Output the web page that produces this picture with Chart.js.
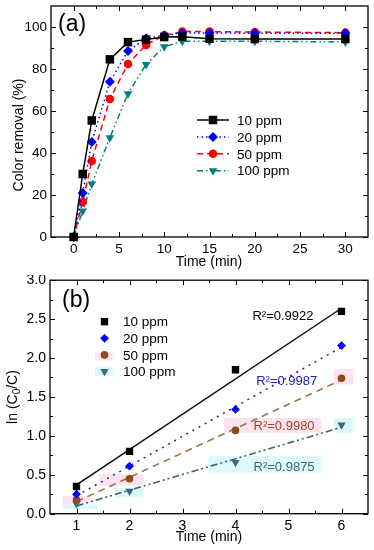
<!DOCTYPE html>
<html>
<head>
<meta charset="utf-8">
<script src="https://cdn.jsdelivr.net/npm/chart.js@4.4.1/dist/chart.umd.min.js"></script>
<style>
  body { margin: 0; background: #fff; }
  canvas { display: block; }
</style>
</head>
<body>
<canvas id="chartA" width="374" height="275"></canvas>
<canvas id="chartB" width="374" height="275"></canvas>
<script>
// (a) color removal vs time
const timeA = [0, 1, 2, 4, 6, 8, 10, 12, 15, 20, 30];
const removal10 = [0, 30, 55.5, 84.6, 92.8, 94, 95.2, 95.4, 94.4, 94.3, 94.3];
const removal20 = [0, 21, 45.2, 73.9, 88.6, 94.6, 96, 97.2, 97.2, 97, 97];
const removal50 = [0, 16.7, 36.2, 65.7, 82.4, 91.5, 96, 97.8, 97.8, 97.6, 97.3];
const removal100 = [0, 12.4, 25.2, 47.3, 68.2, 82.2, 90.6, 93.2, 93.2, 93.2, 92.9];
const xTicksA = [0, 5, 10, 15, 20, 25, 30];
const yTicksA = [0, 20, 40, 60, 80, 100];

// (b) ln(C0/C) vs time, with linear fits
const timeB = [1, 2, 4, 6];
const ln10 = [0.35, 0.80, 1.85, 2.60];
const ln20 = [0.25, 0.61, 1.34, 2.16];
const ln50 = [0.18, 0.45, 1.07, 1.74];
const ln100 = [0.13, 0.29, 0.66, 1.14];
const fitX = [1, 6];
const fit10 = [0.37, 2.64];
const fit20 = [0.23, 2.14];
const fit50 = [0.155, 1.72];
const fit100 = [0.10, 1.11];
const r2Text = ['R²=0.9922', 'R²=0.9987', 'R²=0.9980', 'R²=0.9875'];
const xTicksB = [1, 2, 3, 4, 5, 6];
const yTicksB = [0, 0.5, 1.0, 1.5, 2.0, 2.5, 3.0];

const seriesNames = ['10 ppm', '20 ppm', '50 ppm', '100 ppm'];

const fontFam = '"Liberation Sans", Arial, sans-serif';
Chart.defaults.font.family = fontFam;
Chart.defaults.color = '#000';

const pts = (xs, ys) => xs.map((x, i) => ({ x: x, y: ys[i] }));
const mids = arr => arr.slice(0, -1).map((v, i) => (v + arr[i + 1]) / 2);

const stylesA = [
  { color: '#000000', dash: [], point: 'rect', r: 6, rot: 0 },
  { color: '#0000ff', dash: [1.5, 3], point: 'rectRot', r: 5, rot: 0 },
  { color: '#ff0000', dash: [6, 4], point: 'circle', r: 4.3, rot: 0 },
  { color: '#008080', dash: [6, 3, 1.5, 3, 1.5, 3], point: 'triangle', r: 5, rot: 180 }
];
const stylesB = [
  { color: '#000000', line: '#000000', dash: [], point: 'rect', r: 5.2, rot: 0, text: '#000000' },
  { color: '#0000ff', line: '#2a2aa8', dash: [2, 5], point: 'rectRot', r: 4.4, rot: 0, text: '#2222b0' },
  { color: '#8f4a1a', line: '#9a7450', dash: [7, 5], point: 'circle', r: 3.8, rot: 0, text: '#a0461e' },
  { color: '#3a6a88', line: '#35666f', dash: [7, 3, 2, 3, 2, 3], point: 'triangle', r: 4.8, rot: 180, text: '#3d6478' }
];

// simple marker for the hand-made legends
function drawMark(ctx, s, x, y) {
  ctx.save();
  ctx.fillStyle = s.color;
  ctx.beginPath();
  if (s.point === 'rect') {
    const h = s.r * Math.SQRT1_2;
    ctx.rect(x - h, y - h, 2 * h, 2 * h);
  } else if (s.point === 'rectRot') {
    ctx.moveTo(x, y - s.r); ctx.lineTo(x + s.r, y); ctx.lineTo(x, y + s.r); ctx.lineTo(x - s.r, y);
    ctx.closePath();
  } else if (s.point === 'circle') {
    ctx.arc(x, y, s.r, 0, Math.PI * 2);
  } else {
    ctx.moveTo(x, y + s.r);
    ctx.lineTo(x - s.r * 0.866, y - s.r * 0.5);
    ctx.lineTo(x + s.r * 0.866, y - s.r * 0.5);
    ctx.closePath();
  }
  ctx.fill();
  ctx.restore();
}

function fixedAxis(size, horiz) {
  return s => {
    if (horiz) s.height = size; else s.width = size;
    s.paddingTop = 0; s.paddingBottom = 0; s.paddingLeft = 0; s.paddingRight = 0;
  };
}

// box with inward ticks on all four sides
function framePlugin(xMaj, xMin, yMaj, yMin) {
  return {
    id: 'frame',
    afterDatasetsDraw(chart) {
      const { ctx, chartArea: a, scales } = chart;
      const x = scales.x, y = scales.y;
      ctx.save();
      ctx.strokeStyle = '#000';
      ctx.lineWidth = 1.3;
      ctx.strokeRect(a.left, a.top, a.right - a.left, a.bottom - a.top);
      ctx.lineWidth = 1;
      ctx.beginPath();
      const vt = (vals, len) => vals.forEach(v => {
        const px = Math.round(x.getPixelForValue(v)) + 0.5;
        ctx.moveTo(px, a.bottom); ctx.lineTo(px, a.bottom - len);
        ctx.moveTo(px, a.top); ctx.lineTo(px, a.top + len);
      });
      const ht = (vals, len) => vals.forEach(v => {
        const py = Math.round(y.getPixelForValue(v)) + 0.5;
        ctx.moveTo(a.left, py); ctx.lineTo(a.left + len, py);
        ctx.moveTo(a.right, py); ctx.lineTo(a.right - len, py);
      });
      vt(xMaj, 5); vt(xMin, 3); ht(yMaj, 5); ht(yMin, 3);
      ctx.stroke();
      ctx.restore();
    }
  };
}

const textA = {
  id: 'textA',
  afterDraw(chart) {
    const ctx = chart.ctx;
    ctx.save();
    ctx.fillStyle = '#000';
    ctx.textBaseline = 'middle';
    ctx.font = '23px ' + fontFam;
    ctx.fillText('(a)', 58, 25);

    ctx.font = '14px ' + fontFam;
    ctx.textAlign = 'center';
    ctx.fillText('Time (min)', 209, 262);
    ctx.save();
    ctx.translate(19, 135);
    ctx.rotate(-Math.PI / 2);
    ctx.fillText('Color removal (%)', 0, 0);
    ctx.restore();

    // legend
    ctx.textAlign = 'left';
    ctx.font = '13.5px ' + fontFam;
    seriesNames.forEach((name, i) => {
      const s = stylesA[i];
      const yy = 120 + i * 16.9;
      ctx.save();
      ctx.strokeStyle = s.color;
      ctx.lineWidth = 1.5;
      ctx.setLineDash(s.dash);
      ctx.beginPath();
      ctx.moveTo(197, yy); ctx.lineTo(229, yy);
      ctx.stroke();
      ctx.restore();
      drawMark(ctx, s, 213, yy);
      ctx.fillStyle = '#000';
      ctx.fillText(name, 237, yy + 1);
    });
    ctx.restore();
  }
};

// faint highlight patches in panel (b), in data units
const pink = '#fce3ef', cyan = '#dcf8f8';
const patchesB = [
  { c: pink, x0: 5.86, x1: 6.22, y0: 1.66, y1: 1.86 },
  { c: cyan, x0: 5.86, x1: 6.22, y0: 1.04, y1: 1.23 },
  { c: pink, x0: 3.78, x1: 5.62, y0: 1.04, y1: 1.23 },
  { c: cyan, x0: 3.49, x1: 5.62, y0: 0.53, y1: 0.74 },
  { c: pink, x0: 1.44, x1: 2.26, y0: 0.36, y1: 0.51 },
  { c: cyan, x0: 1.73, x1: 2.26, y0: 0.21, y1: 0.33 },
  { c: pink, x0: 0.74, x1: 1.25, y0: 0.12, y1: 0.23 },
  { c: cyan, x0: 0.74, x1: 1.39, y0: 0.06, y1: 0.12 }
];
const patchPlugin = {
  id: 'patches',
  beforeDatasetsDraw(chart) {
    const { ctx, scales: { x, y } } = chart;
    ctx.save();
    patchesB.forEach(p => {
      const l = x.getPixelForValue(p.x0), r = x.getPixelForValue(p.x1);
      const t = y.getPixelForValue(p.y1), b = y.getPixelForValue(p.y0);
      ctx.fillStyle = p.c;
      ctx.fillRect(l, t, r - l, b - t);
    });
    // legend patches
    ctx.fillStyle = pink; ctx.fillRect(95, 77.5, 18, 8);
    ctx.fillStyle = cyan; ctx.fillRect(95, 92, 18, 9);
    ctx.restore();
  }
};

const r2Pos = [[4.32, 2.54], [4.39, 1.70], [4.34, 1.126], [4.34, 0.60]];
const textB = {
  id: 'textB',
  afterDraw(chart) {
    const { ctx, scales: { x, y } } = chart;
    ctx.save();
    ctx.fillStyle = '#000';
    ctx.textBaseline = 'middle';
    ctx.font = '23px ' + fontFam;
    ctx.fillText('(b)', 62, 26);

    ctx.font = '14px ' + fontFam;
    ctx.textAlign = 'center';
    ctx.fillText('Time (min)', 209, 262);

    // ln (C0/C) with subscript
    ctx.save();
    ctx.translate(13, 122);
    ctx.rotate(-Math.PI / 2);
    ctx.textAlign = 'left';
    const p1 = 'ln (C', p3 = '/C)';
    ctx.font = '14px ' + fontFam;
    const w1 = ctx.measureText(p1).width, w3 = ctx.measureText(p3).width;
    ctx.font = '10px ' + fontFam;
    const w2 = ctx.measureText('0').width;
    const start = -(w1 + w2 + w3) / 2;
    ctx.font = '14px ' + fontFam;
    ctx.fillText(p1, start, 0);
    ctx.font = '10px ' + fontFam;
    ctx.fillText('0', start + w1, 4);
    ctx.font = '14px ' + fontFam;
    ctx.fillText(p3, start + w1 + w2, 0);
    ctx.restore();

    // legend (markers only)
    ctx.textAlign = 'left';
    ctx.font = '13.5px ' + fontFam;
    seriesNames.forEach((name, i) => {
      const yy = 46.7 + i * 16.6;
      drawMark(ctx, stylesB[i], 104.5, yy);
      ctx.fillStyle = '#000';
      ctx.fillText(name, 123, yy + 1);
    });

    // R² labels
    ctx.font = '13px ' + fontFam;
    r2Text.forEach((t, i) => {
      ctx.fillStyle = stylesB[i].text;
      ctx.fillText(t, x.getPixelForValue(r2Pos[i][0]), y.getPixelForValue(r2Pos[i][1]));
    });
    ctx.restore();
  }
};

const dataA = [removal10, removal20, removal50, removal100].map((vals, i) => ({
  label: seriesNames[i],
  data: pts(timeA, vals),
  showLine: true,
  borderColor: stylesA[i].color,
  borderWidth: 1.5,
  borderDash: stylesA[i].dash,
  backgroundColor: stylesA[i].color,
  pointStyle: stylesA[i].point,
  pointRadius: stylesA[i].r,
  pointRotation: stylesA[i].rot,
  pointBorderWidth: 0,
  clip: false
}));

new Chart(document.getElementById('chartA'), {
  type: 'scatter',
  data: { datasets: dataA },
  options: {
    responsive: false,
    animation: false,
    layout: { padding: { top: 3, right: 6, left: 0, bottom: 0 } },
    plugins: { legend: { display: false }, tooltip: { enabled: false } },
    scales: {
      x: {
        type: 'linear', min: -2.5, max: 32.5,
        afterBuildTicks: s => { s.ticks = xTicksA.map(v => ({ value: v })); },
        afterFit: fixedAxis(38, true),
        grid: { display: false, drawTicks: false },
        border: { display: false },
        ticks: { font: { size: 13.5 }, padding: 4, maxRotation: 0, autoSkip: false }
      },
      y: {
        type: 'linear', min: 0, max: 110,
        afterBuildTicks: s => { s.ticks = yTicksA.map(v => ({ value: v })); },
        afterFit: fixedAxis(51, false),
        grid: { display: false, drawTicks: false },
        border: { display: false },
        ticks: { font: { size: 13.5 }, padding: 4, autoSkip: false }
      }
    }
  },
  plugins: [framePlugin(xTicksA, mids(xTicksA), yTicksA, mids(yTicksA)), textA]
});

const ptsB = [ln10, ln20, ln50, ln100].map((vals, i) => ({
  label: seriesNames[i],
  data: pts(timeB, vals),
  showLine: false,
  backgroundColor: stylesB[i].color,
  borderColor: stylesB[i].color,
  pointStyle: stylesB[i].point,
  pointRadius: stylesB[i].r,
  pointRotation: stylesB[i].rot,
  pointBorderWidth: 0
}));
const fitsB = [fit10, fit20, fit50, fit100].map((vals, i) => ({
  label: seriesNames[i] + ' fit',
  data: pts(fitX, vals),
  showLine: true,
  borderColor: stylesB[i].line,
  borderWidth: i === 0 ? 1.3 : 1.6,
  borderDash: stylesB[i].dash,
  pointRadius: 0
}));

new Chart(document.getElementById('chartB'), {
  type: 'scatter',
  data: { datasets: ptsB.concat(fitsB) },
  options: {
    responsive: false,
    animation: false,
    layout: { padding: { top: 5, right: 6, left: 0, bottom: 0 } },
    plugins: { legend: { display: false }, tooltip: { enabled: false } },
    scales: {
      x: {
        type: 'linear', min: 0.5, max: 6.5,
        afterBuildTicks: s => { s.ticks = xTicksB.map(v => ({ value: v })); },
        afterFit: fixedAxis(36.3, true),
        grid: { display: false, drawTicks: false },
        border: { display: false },
        ticks: { font: { size: 14 }, padding: 4, maxRotation: 0, autoSkip: false }
      },
      y: {
        type: 'linear', min: 0, max: 3,
        afterBuildTicks: s => { s.ticks = yTicksB.map(v => ({ value: v })); },
        afterFit: fixedAxis(50, false),
        grid: { display: false, drawTicks: false },
        border: { display: false },
        ticks: { font: { size: 14 }, padding: 4, autoSkip: false, callback: v => v.toFixed(1) }
      }
    }
  },
  plugins: [patchPlugin, framePlugin(xTicksB, mids(xTicksB), yTicksB, mids(yTicksB)), textB]
});
</script>
</body>
</html>
